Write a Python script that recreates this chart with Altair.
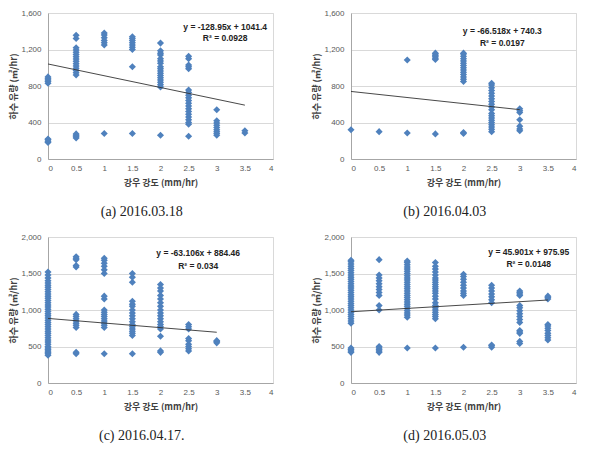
import altair as alt
import pandas as pd

XS = [0, 0.5, 1, 1.5, 2, 2.5, 3, 3.5]

# (a) 2016.03.18
A_Y = [
    [180, 195, 210, 220, 830, 850, 865, 880, 900],
    [230, 245, 260, 275, 920, 945, 970, 995, 1020, 1045, 1070, 1095, 1120, 1145, 1170, 1195, 1220, 1320, 1355],
    [280, 1250, 1275, 1300, 1330, 1360, 1380],
    [280, 1010, 1200, 1225, 1250, 1275, 1300, 1320, 1340],
    [260, 790, 815, 840, 865, 890, 915, 940, 965, 990, 1010, 1050, 1075, 1100, 1140, 1160, 1185, 1270],
    [250, 380, 400, 430, 460, 490, 520, 550, 580, 610, 640, 670, 700, 730, 755, 990, 1010, 1030, 1100, 1125],
    [260, 280, 300, 320, 345, 370, 395, 420, 540],
    [285, 310],
]
# (b) 2016.04.03
B_Y = [
    [320],
    [300],
    [285, 1085],
    [275, 1090, 1105, 1120, 1135, 1150, 1160],
    [280, 290, 850, 875, 900, 925, 950, 975, 1000, 1025, 1050, 1075, 1100, 1125, 1150, 1160],
    [300, 325, 350, 375, 400, 425, 450, 475, 500, 540, 570, 600, 630, 660, 690, 720, 750, 780, 810, 830],
    [310, 330, 360, 430, 510, 530, 550],
    [],
]
# (c) 2016.04.17.
C_Y = [
    [380, 400, 420, 440, 460, 480, 500, 530, 560, 590, 620, 650, 680, 710, 740, 770, 800, 830, 860, 890,
     920, 950, 980, 1010, 1040, 1070, 1100, 1130, 1160, 1190, 1220, 1250, 1280, 1310, 1340, 1370, 1400,
     1440, 1480, 1520],
    [400, 420, 760, 790, 820, 850, 880, 910, 940, 1590, 1610, 1690, 1710, 1730],
    [400, 760, 790, 820, 850, 880, 910, 940, 970, 1000, 1150, 1190, 1500, 1550, 1600, 1640, 1680, 1710],
    [400, 650, 680, 710, 740, 770, 800, 840, 880, 920, 960, 1000, 1050, 1080, 1120, 1380, 1450, 1500],
    [420, 440, 640, 740, 770, 800, 840, 880, 920, 960, 1000, 1050, 1100, 1150, 1200, 1260, 1300, 1350],
    [440, 470, 500, 530, 580, 610, 740, 770, 800],
    [550, 570, 580],
    [],
]
# (d) 2016.05.03
D_Y = [
    [420, 440, 460, 480, 820, 850, 880, 910, 940, 970, 1000, 1030, 1060, 1090, 1120, 1150, 1180, 1210,
     1240, 1270, 1300, 1330, 1360, 1390, 1420, 1450, 1480, 1510, 1540, 1570, 1600, 1630, 1660, 1680],
    [420, 440, 460, 480, 500, 1000, 1060, 1200, 1240, 1280, 1320, 1360, 1400, 1440, 1480, 1690],
    [480, 900, 930, 960, 990, 1020, 1050, 1080, 1110, 1140, 1170, 1200, 1230, 1260, 1290, 1320, 1350,
     1380, 1410, 1440, 1470, 1500, 1530, 1560, 1590, 1620, 1650, 1670],
    [480, 880, 910, 940, 970, 1000, 1030, 1060, 1100, 1150, 1190, 1230, 1260, 1290, 1320, 1350, 1380,
     1410, 1440, 1480, 1520, 1560, 1600, 1650],
    [490, 1200, 1230, 1260, 1300, 1340, 1380, 1420, 1460, 1490],
    [490, 510, 520, 1100, 1140, 1180, 1220, 1260, 1300, 1340],
    [540, 570, 680, 700, 720, 830, 870, 910, 950, 990, 1030, 1060, 1200, 1220, 1240, 1260],
    [590, 620, 650, 680, 720, 750, 780, 800, 1150, 1170, 1190],
]

# trend lines (endpoints)
A_LINE_X, A_LINE_Y = [0, 3.5], [1041.4, 590.1]
B_LINE_X, B_LINE_Y = [0, 3.0], [740.3, 540.7]
C_LINE_X, C_LINE_Y = [0, 3.0], [884.5, 695.1]
D_LINE_X, D_LINE_Y = [0, 3.5], [976.0, 1136.6]

EQS = [
    ("y = -128.95x + 1041.4", "R² = 0.0928"),
    ("y = -66.518x + 740.3", "R² = 0.0197"),
    ("y = -63.106x + 884.46", "R² = 0.034"),
    ("y = 45.901x + 975.95", "R² = 0.0148"),
]
EQ_POS = [(3.15, 1447, 1326), (2.69, 1403, 1271), (2.67, 1779, 1600), (3.16, 1793, 1628)]
CAPTIONS = ["(a) 2016.03.18", "(b) 2016.04.03", "(c) 2016.04.17.", "(d) 2016.05.03"]
YMAX = [1600, 1600, 2000, 2000]
YTICKS = [[0, 400, 800, 1200, 1600], [0, 400, 800, 1200, 1600],
          [0, 500, 1000, 1500, 2000], [0, 500, 1000, 1500, 2000]]
XTICKS = [0, 0.5, 1, 1.5, 2, 2.5, 3, 3.5, 4]

BLUE = "#4F81BD"


def panel(ys, lx, ly, eq, pos, cap, ymax, yticks):
    df = pd.DataFrame([{"x": x, "y": y} for x, col in zip(XS, ys) for y in col])
    xs = alt.Scale(domain=[0, 4], nice=False)
    ysc = alt.Scale(domain=[0, ymax], nice=False)
    xaxis = alt.Axis(values=XTICKS, format="~g", title="강우 강도 (mm/hr)", grid=False,
                     tickSize=0, labelPadding=5, titlePadding=6, labelOverlap=False)
    yaxis = alt.Axis(values=yticks, format=",d", title="하수 유량 (㎥/hr)", grid=True,
                     tickSize=0, labelPadding=7, titlePadding=2, domain=True, labelOverlap=False)
    X = alt.X("x:Q", scale=xs, axis=xaxis)
    Y = alt.Y("y:Q", scale=ysc, axis=yaxis)
    pts = alt.Chart(df).mark_point(shape="diamond", filled=True, size=50, color=BLUE,
                                   opacity=1).encode(x=X, y=Y)
    line = alt.Chart(pd.DataFrame({"x": lx, "y": ly})).mark_line(
        color="#333333", strokeWidth=0.9).encode(x=X, y=Y)
    tdf = pd.DataFrame({"x": [pos[0], pos[0]], "y": [pos[1], pos[2]], "t": [eq[0], eq[1]]})
    txt = alt.Chart(tdf).mark_text(font="Liberation Sans", fontWeight="bold", fontSize=8.5,
                                   align="center", baseline="middle", color="#222222").encode(
        x=X, y=Y, text="t:N")
    return alt.layer(pts, line, txt).properties(
        width=225, height=146,
        title=alt.TitleParams(cap, orient="bottom", anchor="middle", frame="bounds",
                              font="Liberation Serif", fontSize=14, fontWeight="normal",
                              color="#222222", offset=18),
    )


panels = [
    panel(A_Y, A_LINE_X, A_LINE_Y, EQS[0], EQ_POS[0], CAPTIONS[0], YMAX[0], YTICKS[0]),
    panel(B_Y, B_LINE_X, B_LINE_Y, EQS[1], EQ_POS[1], CAPTIONS[1], YMAX[1], YTICKS[1]),
    panel(C_Y, C_LINE_X, C_LINE_Y, EQS[2], EQ_POS[2], CAPTIONS[2], YMAX[2], YTICKS[2]),
    panel(D_Y, D_LINE_X, D_LINE_Y, EQS[3], EQ_POS[3], CAPTIONS[3], YMAX[3], YTICKS[3]),
]

chart = alt.vconcat(
    alt.hconcat(panels[0], panels[1], spacing=38),
    alt.hconcat(panels[2], panels[3], spacing=38),
    spacing=12,
).configure_view(stroke="#D9D9D9", strokeWidth=1).configure_axis(
    labelFont="Liberation Sans", labelFontSize=8, labelColor="#595959",
    titleFont="Noto Sans CJK KR", titleFontSize=9, titleFontWeight="bold", titleColor="#404040",
    gridColor="#D9D9D9", gridWidth=1, domainColor="#A6A6A6", domainWidth=1,
).properties(padding={"left": 1, "top": 0, "right": 0, "bottom": 0})

chart.save("out.html", embed_options={"renderer": "svg", "actions": False})
